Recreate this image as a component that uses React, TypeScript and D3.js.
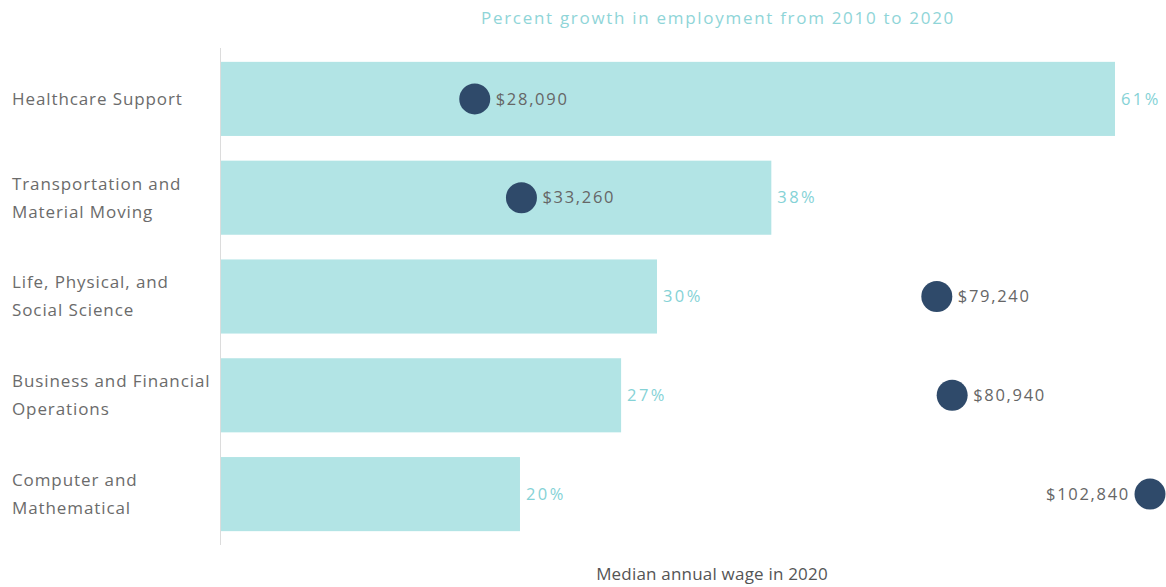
import React from "react";
import * as d3 from "d3";

const categories = [
  ["Healthcare Support"],
  ["Transportation and", "Material Moving"],
  ["Life, Physical, and", "Social Science"],
  ["Business and Financial", "Operations"],
  ["Computer and", "Mathematical"],
];
const growthPct = [61.0, 37.55, 29.75, 27.3, 20.4];
const medianWage = [28090, 33260, 79240, 80940, 102840];
const titleText = "Percent growth in employment from 2010 to 2020";
const xLabelText = "Median annual wage in 2020";

const W = 1166;
const H = 587;
const FONT = "'Open Sans', sans-serif";

export default function App() {
  const x0 = 221;
  const y = d3
    .scaleBand<number>()
    .domain(d3.range(categories.length))
    .range([49, 544])
    .paddingInner(0.25)
    .paddingOuter(0.13);
  const xPct = d3.scaleLinear().domain([0, 61]).range([x0, 1115]);
  const xWage = d3.scaleLinear().domain([0, 102840]).range([x0, 1150]);
  const fmt = d3.format("$,");
  const pf = d3.format(".0f");

  return (
    <svg
      width={W}
      height={H}
      style={{ position: "absolute", left: 0, top: 0, background: "#fff" }}
      fontFamily={FONT}
    >
      <text x={718} y={24} textAnchor="middle" fontSize={17} letterSpacing={1.7} fill="#8fd5d8">
        {titleText}
      </text>
      <line x1={220.5} x2={220.5} y1={48} y2={545} stroke="#dcdcdc" strokeWidth={1} />
      {categories.map((lines, i) => {
        const by = y(i)!;
        const bh = y.bandwidth();
        const cy = by + bh / 2;
        const n = lines.length;
        const lineH = 28;
        const wx = xWage(medianWage[i]);
        const right = wx + 100 <= W;
        return (
          <g key={i}>
            {lines.map((t, j) => (
              <text
                key={j}
                x={12}
                y={cy + (j - (n - 1) / 2) * lineH}
                dy="0.35em"
                fontSize={17}
                letterSpacing={0.9}
                fill="#6b6b6b"
              >
                {t}
              </text>
            ))}
            <rect x={x0} y={by} width={xPct(growthPct[i]) - x0} height={bh} fill="#b2e4e5" />
            <text
              x={xPct(growthPct[i]) + 6}
              y={cy}
              dy="0.35em"
              fontSize={16.5}
              letterSpacing={2.4}
              fill="#85d2d6"
            >
              {pf(growthPct[i])}%
            </text>
            <circle cx={wx} cy={cy} r={15.5} fill="#2f4a6a" />
            <text
              x={right ? wx + 21 : wx - 20}
              y={cy}
              dy="0.35em"
              textAnchor={right ? "start" : "end"}
              fontSize={16.5}
              letterSpacing={1.7}
              fill="#666"
            >
              {fmt(medianWage[i])}
            </text>
          </g>
        );
      })}
      <text x={712} y={580} textAnchor="middle" fontSize={17} letterSpacing={0.2} fill="#555">
        {xLabelText}
      </text>
    </svg>
  );
}
